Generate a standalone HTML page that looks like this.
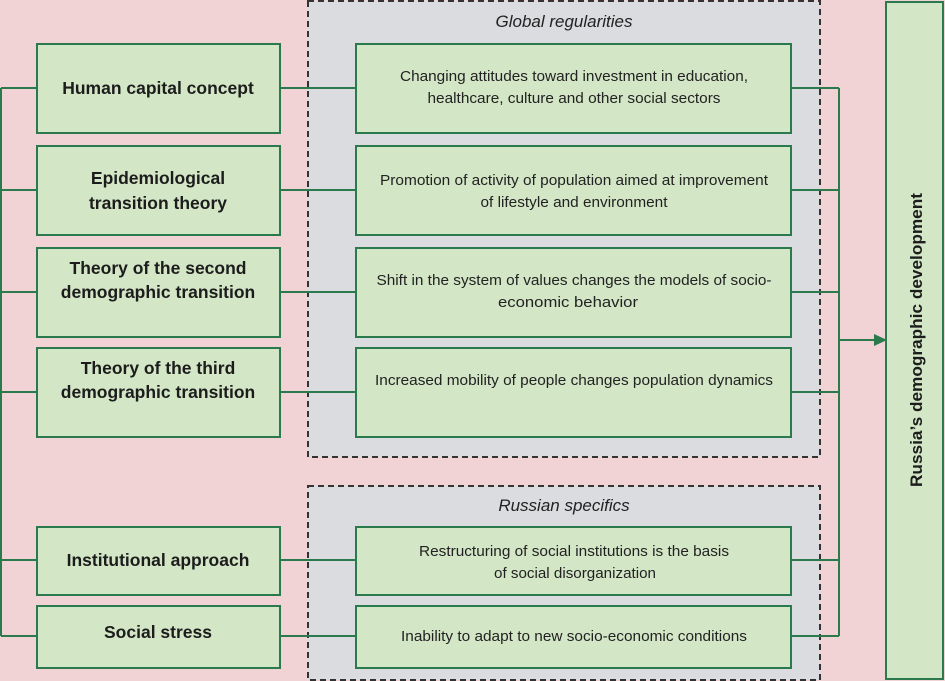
<!DOCTYPE html>
<html><head><meta charset="utf-8"><style>
html,body{margin:0;padding:0;background:#f2d3d5;}
svg{display:block;font-family:"Liberation Sans",Arial,sans-serif;}
.l{font-weight:bold;font-size:17.5px;fill:#1c1c1c;text-anchor:middle;}
.r{font-size:15px;fill:#222;text-anchor:middle;}
.t{font-style:italic;font-size:17px;fill:#222;text-anchor:middle;}
.b{fill:#d3e6c6;stroke:#2b7a4e;stroke-width:2;}
.ln{stroke:#2b7a4e;stroke-width:2;fill:none;}
</style></head><body>
<svg width="945" height="681" viewBox="0 0 945 681" xmlns="http://www.w3.org/2000/svg">
<rect width="945" height="681" fill="#f2d3d5"/>
<rect x="308" y="1" width="512" height="456" fill="#dbdcdf" stroke="#333" stroke-width="2" stroke-dasharray="6,4"/>
<rect x="308" y="486" width="512" height="194" fill="#dbdcdf" stroke="#333" stroke-width="2" stroke-dasharray="6,4"/>
<text class="t" x="564" y="27">Global regularities</text>
<text class="t" x="564" y="511">Russian specifics</text>
<!-- connectors -->
<path class="ln" d="M1,88V636 M1,88H37 M1,190H37 M1,292H37 M1,392H37 M1,560H37 M1,636H37"/>
<path class="ln" d="M280,88H356 M280,190H356 M280,292H356 M280,392H356 M280,560H356 M280,636H356"/>
<path class="ln" d="M839,88V636 M791,88H839 M791,190H839 M791,292H839 M791,392H839 M791,560H839 M791,636H839"/>
<path class="ln" d="M839,340H874"/>
<polygon points="874,334 887,340 874,346" fill="#2b7a4e"/>
<!-- left boxes -->
<rect class="b" x="37" y="44" width="243" height="89"/>
<rect class="b" x="37" y="146" width="243" height="89"/>
<rect class="b" x="37" y="248" width="243" height="89"/>
<rect class="b" x="37" y="348" width="243" height="89"/>
<rect class="b" x="37" y="527" width="243" height="68"/>
<rect class="b" x="37" y="606" width="243" height="62"/>
<text class="l" x="158" y="94">Human capital concept</text>
<text class="l" x="158" y="184">Epidemiological</text>
<text class="l" x="158" y="209">transition theory</text>
<text class="l" x="158" y="274">Theory of the second</text>
<text class="l" x="158" y="298">demographic transition</text>
<text class="l" x="158" y="374">Theory of the third</text>
<text class="l" x="158" y="398">demographic transition</text>
<text class="l" x="158" y="566">Institutional approach</text>
<text class="l" x="158" y="638">Social stress</text>
<!-- right boxes -->
<rect class="b" x="356" y="44" width="435" height="89"/>
<rect class="b" x="356" y="146" width="435" height="89"/>
<rect class="b" x="356" y="248" width="435" height="89"/>
<rect class="b" x="356" y="348" width="435" height="89"/>
<rect class="b" x="356" y="527" width="435" height="68"/>
<rect class="b" x="356" y="606" width="435" height="62"/>
<text class="r" x="574" y="81" textLength="348" lengthAdjust="spacingAndGlyphs">Changing attitudes toward investment in education,</text>
<text class="r" x="574" y="103" textLength="293" lengthAdjust="spacingAndGlyphs">healthcare, culture and other social sectors</text>
<text class="r" x="574" y="185" textLength="388" lengthAdjust="spacingAndGlyphs">Promotion of activity of population aimed at improvement</text>
<text class="r" x="574" y="207" textLength="187" lengthAdjust="spacingAndGlyphs">of lifestyle and environment</text>
<text class="r" x="574" y="285" textLength="395" lengthAdjust="spacingAndGlyphs">Shift in the system of values changes the models of socio-</text>
<text class="r" x="568" y="307" textLength="140" lengthAdjust="spacingAndGlyphs">economic behavior</text>
<text class="r" x="574" y="385" textLength="398" lengthAdjust="spacingAndGlyphs">Increased mobility of people changes population dynamics</text>
<text class="r" x="574" y="556" textLength="310" lengthAdjust="spacingAndGlyphs">Restructuring of social institutions is the basis</text>
<text class="r" x="575" y="578" textLength="162" lengthAdjust="spacingAndGlyphs">of social disorganization</text>
<text class="r" x="574" y="641" textLength="346" lengthAdjust="spacingAndGlyphs">Inability to adapt to new socio-economic conditions</text>
<!-- big box -->
<rect class="b" x="886" y="2" width="57" height="677"/>
<text class="l" transform="translate(922,340) rotate(-90)" x="0" y="0" dy="0" textLength="294" lengthAdjust="spacingAndGlyphs" style="font-size:17px">Russia’s demographic development</text>
</svg>
</body></html>
